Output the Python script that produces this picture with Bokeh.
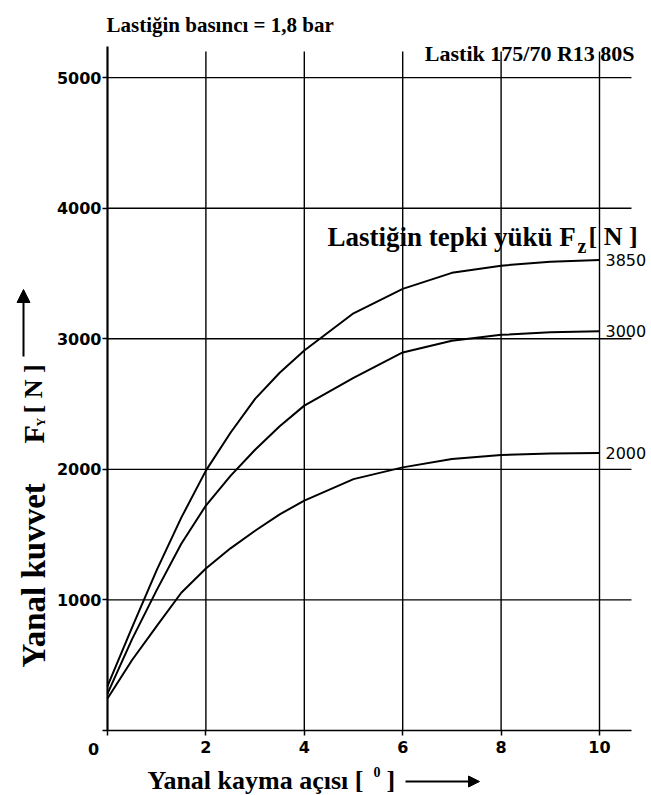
import math
from bokeh.plotting import figure
from bokeh.models import (FixedTicker, Label, LabelSet, ColumnDataSource, Arrow,
                          NormalHead, Range1d)
from bokeh.core.properties import value
from bokeh.embed import file_html
from bokeh.resources import INLINE

# ---- data ----
slip_angle = [0, 0.5, 1, 1.5, 2, 2.5, 3, 3.5, 4, 5, 6, 7, 8, 9, 10]
fy_3850 = [340, 790, 1228, 1630, 1990, 2280, 2540, 2740, 2910, 3195, 3382, 3505, 3560, 3590, 3603]
fy_3000 = [283, 700, 1075, 1430, 1723, 1950, 2150, 2330, 2488, 2700, 2895, 2985, 3030, 3050, 3058]
fy_2000 = [245, 540, 800, 1055, 1240, 1395, 1530, 1655, 1761, 1925, 2015, 2080, 2110, 2122, 2126]
load_labels = ["3850", "3000", "2000"]
x_ticks = [0, 2, 4, 6, 8, 10]
y_ticks = [0, 1000, 2000, 3000, 4000, 5000]

SERIF = "Liberation Serif"
SANS = "DejaVu Sans"

# ---- page geometry (pixels) ----
W, H = 651, 795
X0_PX, XPX_PER_UNIT = 107, 49.2          # x = 0 at pixel 107
Y0_PX, YUNIT_PER_PX = 730, 5200 / 679    # y = 0 at pixel 730
X_END, Y_END = 10.65, 5200               # extent of the chart area

def dx(px):
    return (px - X0_PX) / XPX_PER_UNIT

def dy(py):
    return (Y0_PX - py) * YUNIT_PER_PX

p = figure(width=W, height=H, x_range=Range1d(dx(0), dx(W)), y_range=Range1d(dy(H), dy(0)),
           output_backend="svg", toolbar_location=None,
           min_border_left=0, min_border_right=0, min_border_top=0, min_border_bottom=0)
p.outline_line_color = None
p.background_fill_color = "white"
p.border_fill_color = "white"
p.grid.visible = False

# axes, drawn at the data origin
for ax, ticks in ((p.xaxis, x_ticks), (p.yaxis, y_ticks)):
    ax.fixed_location = 0
    ax.ticker = FixedTicker(ticks=ticks)
    ax.major_label_overrides = {0: ""}
    ax.minor_tick_line_color = None
    ax.major_tick_in = 0
    ax.major_tick_out = 5
    ax.major_tick_line_color = "black"
    ax.major_tick_line_width = 1.5
    ax.axis_line_color = "black"
    ax.major_label_text_font = SANS
    ax.major_label_text_font_style = "bold"
    ax.major_label_text_font_size = "16px"
    ax.major_label_text_color = "black"
p.yaxis.bounds = (0, Y_END + 40)
p.xaxis.bounds = (0, X_END)
p.yaxis.axis_line_width = 2.2
p.xaxis.axis_line_width = 1.6
p.yaxis.major_label_standoff = 1
p.xaxis.major_label_standoff = 5

# grid lines at the ticks
hy = y_ticks[1:]
p.segment(x0=[0] * len(hy), y0=hy, x1=[X_END] * len(hy), y1=hy,
          line_color="black", line_width=1.4)
vx = x_ticks[1:]
p.segment(x0=vx, y0=[0] * len(vx), x1=vx, y1=[Y_END] * len(vx),
          line_color="black", line_width=1.4)

# curves
for ys in (fy_3850, fy_3000, fy_2000):
    p.line(slip_angle, ys, line_color="black", line_width=2.0)

# curve end labels
end_src = ColumnDataSource(dict(x=[slip_angle[-1]] * 3,
                                y=[fy_3850[-1], fy_3000[-1], fy_2000[-1]],
                                t=load_labels))
p.add_layout(LabelSet(x="x", y="y", text="t", source=end_src, x_offset=6,
                      text_font=value(SANS), text_font_size=value("16px"),
                      text_baseline="middle", text_align="left", text_color="black"))

def txt(**kw):
    kw.setdefault("text_font", SERIF)
    kw.setdefault("text_font_style", "bold")
    kw.setdefault("text_color", "black")
    kw.setdefault("text_align", "left")
    kw.setdefault("text_baseline", "alphabetic")
    p.add_layout(Label(**kw))

# shared origin label "0"
txt(x=0, y=0, x_offset=-14, y_offset=-18, text="0", text_font=SANS,
    text_font_size="16px", text_align="center", text_baseline="middle")

# top texts
txt(x=dx(106), y=dy(24), text="Lastiğin basıncı = 1,8 bar", text_font_size="21px")
txt(x=dx(634), y=dy(53), text="Lastik 175/70 R13 80S", text_font_size="22px",
    text_align="right")

# heading of the curve family
txt(x=dx(327), y=dy(236), text="Lastiğin tepki yükü F", text_font_size="27px")
txt(x=dx(577), y=dy(245), text="z", text_font_size="20px")
txt(x=dx(588), y=dy(236), text="[ N ]", text_font_size="26px")

# y-axis title (rotated)
rot = math.pi / 2
txt(x=dx(33), y=dy(667), text="Yanal kuvvet", angle=rot, text_font_size="33px")
txt(x=dx(33), y=dy(443), text="F", angle=rot, text_font_size="30px")
txt(x=dx(40), y=dy(426), text="Y", angle=rot, text_font_size="12px")
txt(x=dx(33), y=dy(413), text="[ N ]", angle=rot, text_font_size="26px")
p.add_layout(Arrow(end=NormalHead(size=13, fill_color="black", line_color="black"),
                   x_start=dx(23), y_start=dy(356), x_end=dx(23), y_end=dy(289),
                   line_color="black", line_width=2))

# x-axis title
txt(x=dx(147), y=dy(780), text="Yanal kayma açısı [", text_font_size="26px")
txt(x=dx(373), y=dy(771), text="0", text_font_size="14px")
txt(x=dx(386), y=dy(780), text="]", text_font_size="26px")
p.add_layout(Arrow(end=NormalHead(size=11, fill_color="black", line_color="black"),
                   x_start=dx(405), y_start=dy(781), x_end=dx(479), y_end=dy(781),
                   line_color="black", line_width=2))

open("out.html", "w").write(file_html(p, INLINE))
